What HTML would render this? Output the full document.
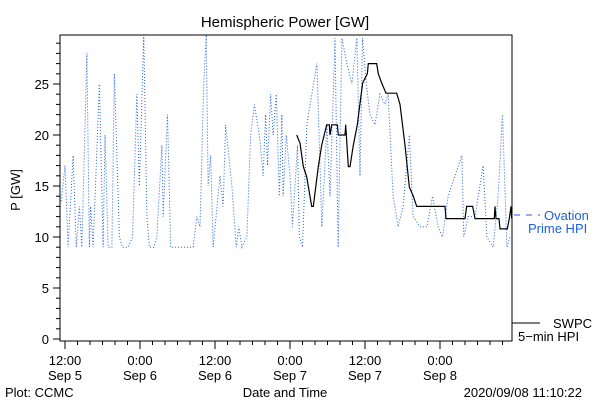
<!DOCTYPE html>
<html><head><meta charset="utf-8"><style>
body{margin:0;background:#fff;}
svg{display:block;font-family:"Liberation Sans",sans-serif;}
</style></head><body>
<svg id="c" width="600" height="400">
<rect x="0" y="0" width="600" height="400" fill="#fff"/>
<text x="285" y="27" font-size="15" text-anchor="middle">Hemispheric Power [GW]</text>
<text x="0" y="0" font-size="13" text-anchor="middle" transform="translate(20,190) rotate(-90)">P [GW]</text>
<text x="285" y="397" font-size="13" text-anchor="middle">Date and Time</text>
<text x="5" y="397" font-size="13">Plot: CCMC</text>
<text x="582" y="397" font-size="13" text-anchor="end">2020/09/08 11:10:22</text>
<g id="axes"></g>
<g id="series"></g>
<g>
<line x1="514" y1="215" x2="540" y2="215" stroke="#1e5fe6" stroke-width="1" stroke-dasharray="6,6"/>
<text x="544" y="220" font-size="13" fill="#1e5fe6">Ovation</text>
<text x="528" y="233" font-size="13" fill="#1e5fe6">Prime HPI</text>
</g>
<g>
<line x1="512" y1="323" x2="540" y2="323" stroke="#000" stroke-width="1"/>
<text x="553" y="328" font-size="13">SWPC</text>
<text x="518" y="341" font-size="13">5−min HPI</text>
</g>
</svg>
<script>
// hours since Sep 5 12:00
const ovationHours=[-0.6,0,0.5,1.3,1.8,2.3,2.7,3.5,3.9,4.1,4.5,5.5,6.1,6.4,6.9,7.5,7.9,8.7,9.2,10.1,10.8,11.5,11.9,12.6,13.1,13.5,14.2,14.7,15.5,15.7,16.4,16.9,20.5,21.1,21.6,22.2,22.6,22.9,23.3,23.7,24.8,25.3,25.7,26.2,26.7,27.4,27.8,28.3,29.1,29.7,30.3,31.1,31.7,32.1,32.4,32.9,33.3,33.8,34.3,34.7,34.9,35.4,36.0,36.4,37.2,37.5,38.0,38.7,39.5,40.3,41.1,41.9,42.4,43.2,43.7,44.3,45.1,45.9,46.7,47.2,47.6,48.2,48.8,49.6,50.4,51.2,51.7,52.5,53.3,54.1,55.1,55.7,56.8,57.9,58.8,59.7,60.4,61.3,62.4,63.5,63.8,64.5,65.6,66.9,67.5,68.5,69.3,70.0,70.7,71.2];
const ovationValues=[13.5,17,9,18,9,13,9,28,9,13,9,25,9,20,9,9,26,10,9,9,10,24,15,29.8,12,9,9,10,19,12,22,9,9,12,11,25,29.8,15,18,9,16,13,21,18,15,9,11,9,10,20,23,20,16,22,17,24,20,24,14,22,14,20,16,11,19,10,9,21,24,27,11,21,14,29.5,9,29.5,27,25,29.5,16,29.5,25,22,21,24,23,24,14,11,13,20,12,11,11,14,11,10,14,16,18,10,12,12,17,10,9,14,22,9,10];
const swpcHours=[37.07,37.6,38.13,38.67,39.47,39.73,40.53,41.07,41.87,42.29,42.4,42.67,43.57,43.73,44.8,44.91,45.33,45.6,46.13,46.77,47.2,47.63,48.37,48.53,49.87,50.13,50.67,51.36,53.07,53.6,54.4,55.09,55.73,56.27,60.8,60.96,64,64.27,65.23,65.6,68.69,68.8,68.96,69.44,69.6,70.77,71.09,71.36,71.47];
const swpcValues=[20,19.2,16.9,15.9,13,13,16.9,19,21,21,20,21,21,20,20,21,16.9,16.9,19,21,23.1,25.1,26,27,27,26,25.1,24.1,24.1,23,19,14.9,14,13,13,11.8,11.8,13,13,11.8,11.8,13,11.8,11.8,10.8,10.8,11.8,13,11.8];
const yTicks=[0,5,10,15,20,25];
const xTickHours=[0,12,24,36,48,60];
const xTickTimes=["12:00","0:00","12:00","0:00","12:00","0:00"];
const xTickDates=["Sep 5","Sep 6","Sep 6","Sep 7","Sep 7","Sep 8"];

const L=60,R=512,T=35,B=341,X0=65,PXH=6.25,Y0=339,PXV=10.2;
const xs=h=>X0+h*PXH, ys=v=>Y0-v*PXV;
const NS="http://www.w3.org/2000/svg";
const ax=document.getElementById('axes'), se=document.getElementById('series');
function mk(tag,attrs,parent){const e=document.createElementNS(NS,tag);for(const k in attrs)e.setAttribute(k,attrs[k]);parent.appendChild(e);return e;}

const frame=mk('rect',{x:L,y:T,width:R-L,height:B-T,fill:'none',stroke:'#000','stroke-width':1},ax);


for(let v=0;v<=29;v++){
  const y=ys(v), major=v%5===0;
  const t=mk('line',{x1:L-(major?7:4),x2:L,y1:y,y2:y,stroke:'#000'},ax);
  
  
}
yTicks.forEach(v=>{
  const t=mk('text',{x:49,y:ys(v)+5,'font-size':13,'text-anchor':'end'},ax);
  t.textContent=v;
  
  
});
for(let h=0;h<=71;h+=2){
  const x=xs(h), major=h%12===0;
  const t=mk('line',{x1:x,x2:x,y1:B,y2:B+(major?8:4),stroke:'#000'},ax);
  
  
}
xTickHours.forEach((h,i)=>{
  const t=mk('text',{x:xs(h),y:365,'font-size':13,'text-anchor':'middle'},ax);
  t.textContent=xTickTimes[i];
  
  
  const d=mk('text',{x:xs(h),y:380,'font-size':13,'text-anchor':'middle'},ax);
  d.textContent=xTickDates[i];
  
  
});
const clamp=v=>Math.min(v,29.8);
const op=mk('polyline',{points:ovationHours.map((h,i)=>xs(h)+','+ys(clamp(ovationValues[i]))).join(' '),fill:'none',stroke:'#1e5fe6','stroke-width':1,'stroke-dasharray':'1,2'},se);


const sp=mk('polyline',{points:swpcHours.map((h,i)=>xs(h)+','+ys(swpcValues[i])).join(' '),fill:'none',stroke:'#000','stroke-width':1.2},se);


</script>
</body></html>
